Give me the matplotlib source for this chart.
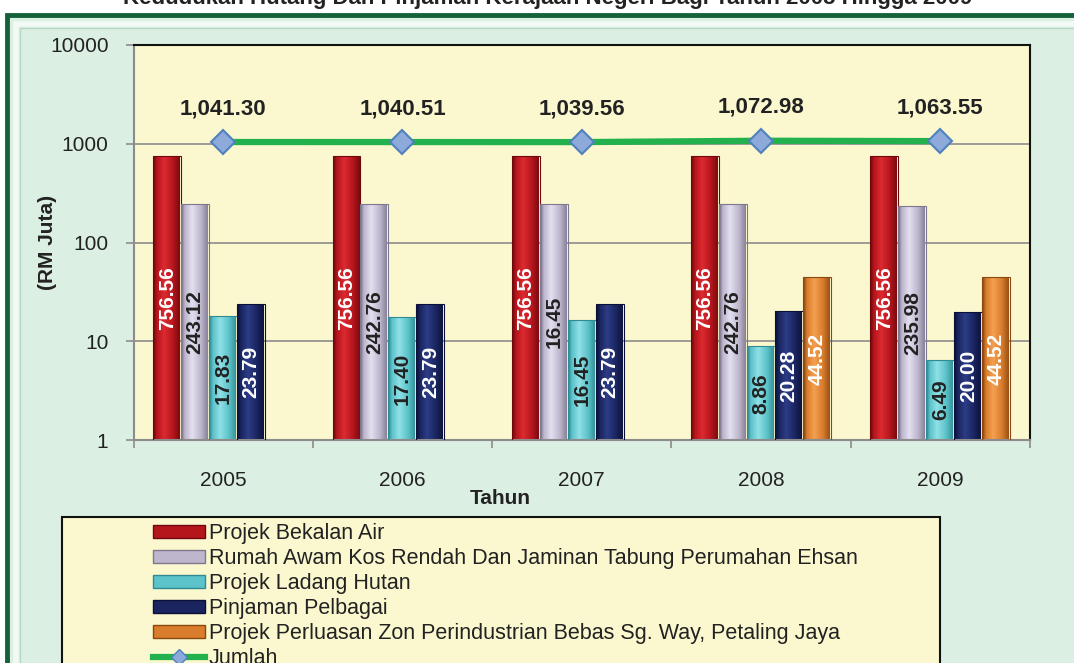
import numpy as np
import matplotlib.pyplot as plt
from matplotlib.colors import LinearSegmentedColormap
from matplotlib.patches import Rectangle, Patch
from matplotlib.lines import Line2D

plt.rcParams['font.family'] = ['Liberation Sans', 'DejaVu Sans']

# data
years = ['2005', '2006', '2007', '2008', '2009']
bekalan_air = [756.56, 756.56, 756.56, 756.56, 756.56]
rumah_awam = [243.12, 242.76, 242.76, 242.76, 235.98]
rumah_awam_labels = ['243.12', '242.76', '16.45', '242.76', '235.98']
ladang_hutan = [17.83, 17.40, 16.45, 8.86, 6.49]
pinjaman = [23.79, 23.79, 23.79, 20.28, 20.00]
zon_industri = [np.nan, np.nan, np.nan, 44.52, 44.52]
jumlah = [1041.30, 1040.51, 1039.56, 1072.98, 1063.55]

series_names = [
    'Projek Bekalan Air',
    'Rumah Awam Kos Rendah Dan Jaminan Tabung Perumahan Ehsan',
    'Projek Ladang Hutan',
    'Pinjaman Pelbagai',
    'Projek Perluasan Zon Perindustrian Bebas Sg. Way, Petaling Jaya',
]
line_name = 'Jumlah'
title = 'Kedudukan Hutang Dan Pinjaman Kerajaan Negeri Bagi Tahun 2005 Hingga 2009'

# (dark edge, bright, mid, label colour)
styles = [
    ('#6e0a0e', '#dc2a30', '#b5161c', 'white'),
    ('#7d7790', '#e4dff0', '#bdb6cc', '#222222'),
    ('#2f8a92', '#8fe0e5', '#5cc3ca', '#222222'),
    ('#0a1038', '#2c3c86', '#1a2560', 'white'),
    ('#8a4712', '#f3a050', '#d97d2c', 'white'),
]

W, H = 1074, 663
fig = plt.figure(figsize=(W / 100, H / 100), dpi=100)
fig.patch.set_facecolor('white')

# outer green frame with a light bevel
fig.patches.append(Rectangle((7 / W, -0.05), 1.1, 1.05 - 15 / H, transform=fig.transFigure,
                             facecolor='#dcefe3', edgecolor='#15613a', lw=3.5, zorder=-3))
fig.patches.append(Rectangle((16 / W, -0.05), 1.1, 1.05 - 24 / H, transform=fig.transFigure,
                             facecolor='none', edgecolor='#f3faf5', lw=4, zorder=-2))
fig.patches.append(Rectangle((20 / W, -0.05), 1.1, 1.05 - 28 / H, transform=fig.transFigure,
                             facecolor='none', edgecolor='#b7d8c2', lw=1, zorder=-2))

# title, mostly cut off at the top of the picture
fig.text(548 / W, 1 - 4 / H, title, ha='center', va='baseline', fontsize=16,
         fontweight='bold', color='#222222')

ax = fig.add_axes([133.5 / W, 1 - 440 / H, 896.5 / W, 395 / H])
ax.set_facecolor('#fbf8cf')
ax.set_yscale('log')

x = np.arange(len(years))
bw = 0.156
all_series = [bekalan_air, rumah_awam, ladang_hutan, pinjaman, zon_industri]
all_labels = [
    [f'{v:.2f}' for v in bekalan_air],
    rumah_awam_labels,
    [f'{v:.2f}' for v in ladang_hutan],
    [f'{v:.2f}' for v in pinjaman],
    [f'{v:.2f}' for v in zon_industri],
]

for k, (vals, labs, st) in enumerate(zip(all_series, all_labels, styles)):
    dark, bright, mid, tcol = st
    cmap = LinearSegmentedColormap.from_list(
        f's{k}', [(0, dark), (0.12, mid), (0.38, bright), (0.7, mid), (1, dark)])
    grad = np.linspace(0, 1, 64).reshape(1, -1)
    for i, v in enumerate(vals):
        if np.isnan(v):
            continue
        xc = x[i] + (k - 2) * bw
        ax.imshow(grad, extent=(xc - bw / 2, xc + bw / 2, 1, v), aspect='auto',
                  cmap=cmap, origin='lower', interpolation='bilinear', zorder=2)
        ax.bar(xc, v, width=bw, facecolor='none', edgecolor=dark, lw=0.8, zorder=3)
        ax.text(xc, np.sqrt(v), labs[i], rotation=90, ha='center', va='center',
                fontsize=15, fontweight='bold', color=tcol, zorder=5)

ax.plot(x, jumlah, color='#22b14c', lw=4.5, marker='D', markersize=12,
        markerfacecolor='#8eaadb', markeredgecolor='#4f81bd', markeredgewidth=1.5, zorder=6)
for xi, v in zip(x, jumlah):
    ax.annotate(f'{v:,.2f}', (xi, v), xytext=(0, 24), textcoords='offset points',
                ha='center', va='center', fontsize=16, fontweight='bold', color='#222222')

ax.set_xlim(-0.5, len(years) - 0.5)
ax.set_ylim(1, 10000)
ax.set_yticks([1, 10, 100, 1000, 10000])
ax.set_yticklabels(['1', '10', '100', '1000', '10000'])
ax.yaxis.set_minor_locator(plt.NullLocator())
ax.grid(axis='y', color='#8c8c8c', lw=1.2, zorder=1)
ax.set_axisbelow(True)

ax.set_xticks(x)
ax.set_xticklabels(years)
ax.set_xticks(np.arange(-0.5, len(years)), minor=True)
ax.tick_params(axis='x', which='major', length=0, pad=22, labelsize=15, labelcolor='#222222')
ax.tick_params(axis='x', which='minor', length=6, width=1.2, color='#8c8c8c', direction='out')
ax.tick_params(axis='y', length=6, width=1.2, color='#8c8c8c', pad=12, labelsize=15,
               labelcolor='#222222')

for s in ['left', 'bottom']:
    ax.spines[s].set_color('#8c8c8c')
    ax.spines[s].set_linewidth(1.5)
for s in ['top', 'right']:
    ax.spines[s].set_color('#111111')
    ax.spines[s].set_linewidth(1.5)

ax.set_ylabel('(RM Juta)', fontsize=15, fontweight='bold', color='#222222')
ax.yaxis.set_label_coords((57 - 133.5) / 896.5, 0.5)
ax.set_xlabel('Tahun', fontsize=15, fontweight='bold', color='#222222')
ax.xaxis.set_label_coords((500 - 133.5) / 896.5, (440 - 489) / 395)

# legend box
fig.patches.append(Rectangle((62 / W, -0.05), 878 / W, 0.05 + (663 - 517) / H,
                             transform=fig.transFigure, facecolor='#fbf8cf',
                             edgecolor='#111111', lw=1.5, zorder=-1))
handles = [Patch(facecolor=st[2], edgecolor=st[0], lw=1) for st in styles]
handles.append(Line2D([0], [0], color='#22b14c', lw=4.5, marker='D', markersize=8,
                      markerfacecolor='#8eaadb', markeredgecolor='#4f81bd'))
leg = fig.legend(handles, series_names + [line_name], loc='upper left',
                 bbox_to_anchor=(153 / W, 1 - 523 / H), frameon=False, fontsize=15.5,
                 handlelength=2.4, handleheight=0.55, labelspacing=0.19,
                 handletextpad=0.2, borderpad=0, borderaxespad=0)
for t in leg.get_texts():
    t.set_color('#222222')

fig.savefig('out.png', dpi=100)
